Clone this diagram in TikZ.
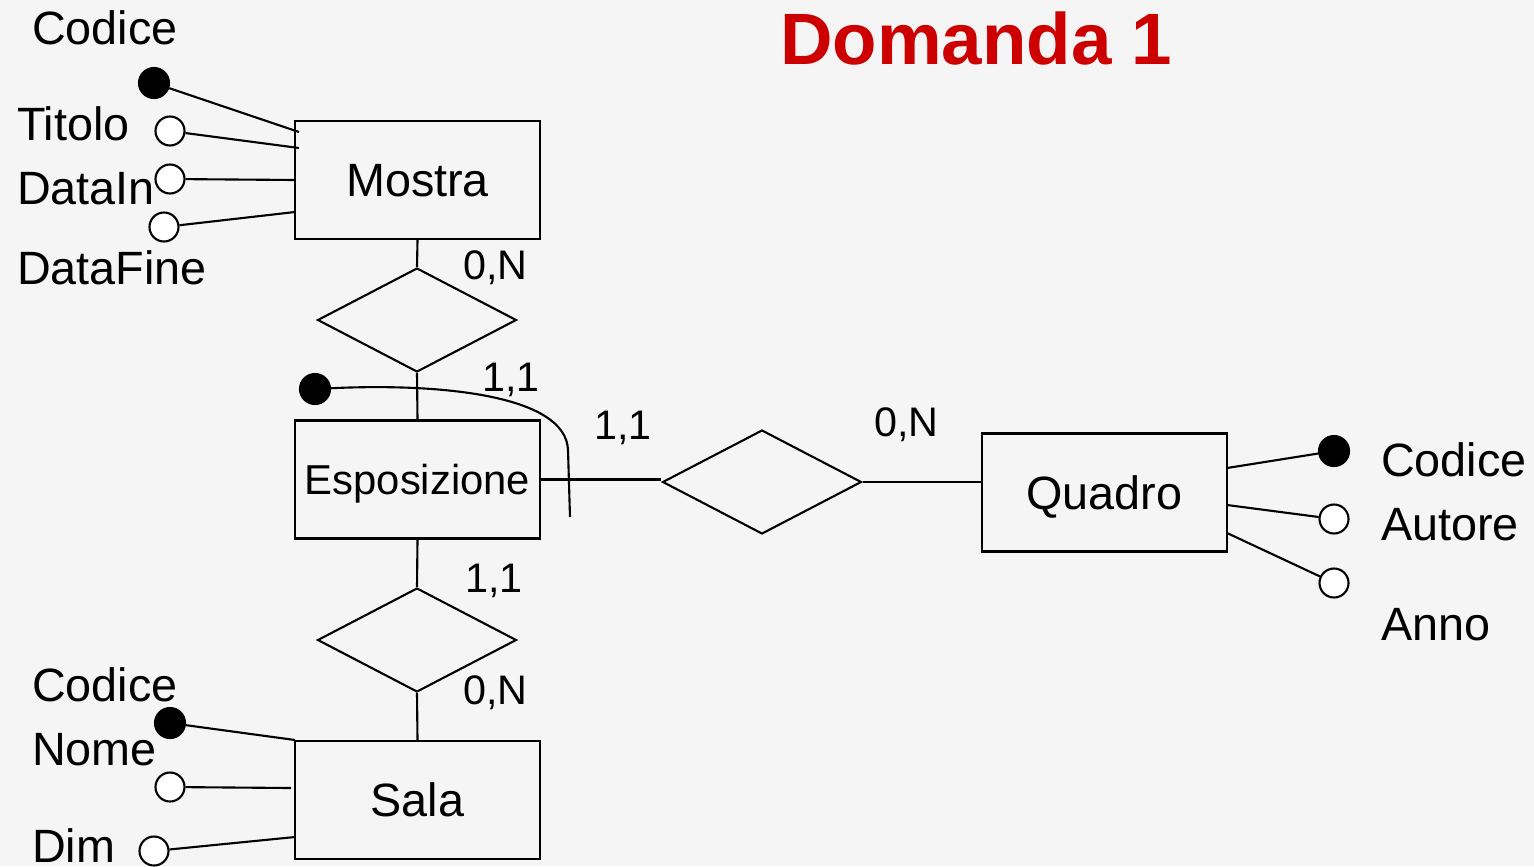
\documentclass[tikz,border=0pt]{standalone}
\usepackage{fontspec}
\setmainfont{Liberation Sans}
\usetikzlibrary{shapes.geometric,calc}
\definecolor{bg}{HTML}{F5F5F5}
\definecolor{titlered}{HTML}{CC0000}
\begin{document}
\begin{tikzpicture}[x=0.02cm,y=-0.02cm,line width=1.2pt,
 ent/.style={draw,rectangle,minimum width=4.9cm,minimum height=2.36cm,inner sep=0,font=\fontsize{26.6}{30}\selectfont,text height=19pt,text depth=0pt},
 rel/.style={draw,diamond,minimum width=3.98cm,minimum height=2.08cm,inner sep=0},
 lab/.style={inner sep=0,anchor=west,font=\fontsize{26.6}{30}\selectfont,text height=19pt,text depth=0pt},
 card/.style={inner sep=0,anchor=west,font=\fontsize{23.5}{28}\selectfont,text height=16.8pt,text depth=0pt},
 keyatt/.style={circle,fill=black,draw,minimum size=0.6cm,inner sep=0},
 att/.style={circle,fill=white,draw,minimum size=0.58cm,inner sep=0}]
\fill[bg] (0,0) rectangle (1534,866);
\useasboundingbox (0,0) rectangle (1534,866);

% title
\node[inner sep=0,anchor=west,font=\bfseries\fontsize{41.4}{46}\selectfont,text height=29.6pt,text depth=0pt,text=titlered] (title) at (779,38) {Domanda 1};

% entities
\node[ent] (mostra) at (417.5,180) {Mostra};
\node[ent,font=\fontsize{23.8}{28}\selectfont,text height=17pt] (espo) at (417.5,479.5) {Esposizione};
\node[ent] (sala) at (417.5,800) {Sala};
\node[ent] (quadro) at (1104.5,492.5) {Quadro};

% relationships
\node[rel] (r1) at (417,320) {};
\node[rel] (r2) at (417,640) {};
\node[rel] (r3) at (762,482) {};

\draw (mostra.south) -- (r1.north);
\draw (r1.south) -- (espo.north);
\draw (espo.south) -- (r2.north);
\draw (r2.south) -- (sala.north);
\draw (espo.east) -- (espo.east -| r3.west);
\draw (r3.east) -- (r3.east -| quadro.west);

% cardinalities
\node[card] (c1) at (462,265) {0,N};
\node[card] (c2) at (481,377) {1,1};
\node[card] (c3) at (593,425) {1,1};
\node[card] (c4) at (873,422) {0,N};
\node[card] (c5) at (464,578) {1,1};
\node[card] (c6) at (462,690) {0,N};

% Mostra attributes
\node[lab] (lmc) at (31,28) {Codice};
\node[lab] (lmt) at (16,124) {Titolo};
\node[lab] (lmi) at (16,188) {DataIn};
\node[lab] (lmf) at (16,268) {DataFine};
\node[keyatt] (amc) at (154,83) {};
\node[att] (amt) at (170,131) {};
\node[att] (ami) at (170,179) {};
\node[att] (amf) at (164,227) {};
\coordinate (pmc) at (299,132);
\coordinate (pmt) at (299,148);
\coordinate (pmi) at (295,180);
\coordinate (pmf) at (295,212);
\draw (amc) -- (pmc);
\draw (amt) -- (pmt);
\draw (ami) -- (pmi);
\draw (amf) -- (pmf);

% Esposizione identifier
\node[keyatt] (aeid) at (315,389) {};
\coordinate (peid) at (570,517);
\draw (aeid) .. controls (440,383) and (566,395) .. (568,450) -- (peid);

% Quadro attributes
\node[lab] (lqc) at (1380,460) {Codice};
\node[lab] (lqa) at (1380,524) {Autore};
\node[lab] (lqn) at (1380,624) {Anno};
\node[keyatt] (aqc) at (1334,451) {};
\node[att] (aqa) at (1334,519) {};
\node[att] (aqn) at (1334,583) {};
\coordinate (pqc) at (1227,468);
\coordinate (pqa) at (1227,505);
\coordinate (pqn) at (1227,533);
\draw (pqc) -- (aqc);
\draw (pqa) -- (aqa);
\draw (pqn) -- (aqn);

% Sala attributes
\node[lab] (lsc) at (31,685) {Codice};
\node[lab] (lsn) at (31,749) {Nome};
\node[lab] (lsd) at (31,846) {Dim};
\node[keyatt] (asc) at (170,723) {};
\node[att] (asn) at (170,787) {};
\node[att] (asd) at (154,851) {};
\coordinate (psc) at (295,740);
\coordinate (psn) at (291,788);
\coordinate (psd) at (295,837);
\draw (asc) -- (psc);
\draw (asn) -- (psn);
\draw (asd) -- (psd);
\end{tikzpicture}
\end{document}
